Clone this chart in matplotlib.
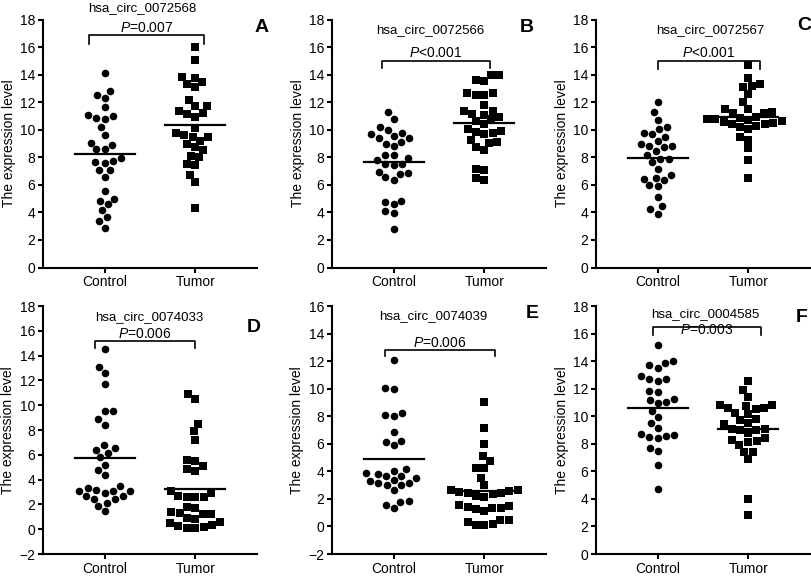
import numpy as np
import matplotlib
matplotlib.use("Agg")
import matplotlib.pyplot as plt

plt.rcParams['font.family'] = ['Liberation Sans', 'DejaVu Sans']
plt.rcParams['mathtext.fontset'] = 'custom'
plt.rcParams['mathtext.rm'] = 'Liberation Sans'
plt.rcParams['mathtext.it'] = 'Liberation Sans:italic'

# ---- data ----
genes = ["hsa_circ_0072568", "hsa_circ_0072566", "hsa_circ_0072567",
         "hsa_circ_0074033", "hsa_circ_0074039", "hsa_circ_0004585"]
p_text = ["=0.007", "<0.001", "<0.001", "=0.006", "=0.006", "=0.003"]
letters = ["A", "B", "C", "D", "E", "F"]
groups = ["Control", "Tumor"]

control_A = [14.1, 12.8, 12.55, 12.3, 11.07, 11.63, 10.97, 10.85, 10.76, 10.17,
             9.6, 9.06, 8.9, 8.58, 8.58, 7.73, 7.56, 7.63, 7.92, 7.07,
             7.07, 6.59, 5.57, 5.0, 4.6, 4.82, 4.17, 3.68, 3.39, 2.9]
tumor_A = [15.99, 15.07, 13.76, 13.32, 13.49, 13.81, 13.13, 12.19, 11.75, 11.75,
           11.39, 11.14, 11.19, 10.95, 10.1, 9.62, 9.45, 9.5, 9.74, 9.2,
           9.0, 8.72, 8.55, 8.0, 8.1, 7.44, 7.51, 6.73, 6.23, 4.31]

control_B = [11.26, 10.8, 10.0, 10.17, 9.52, 9.4, 9.69, 9.76, 9.4, 8.99,
             8.79, 9.08, 8.14, 7.97, 8.14, 7.78, 7.51, 7.46, 7.51, 6.86,
             6.54, 6.37, 6.81, 6.93, 4.77, 4.84, 4.58, 4.07, 3.95, 2.83]
tumor_B = [13.95, 13.52, 13.64, 14.0, 12.67, 12.5, 12.5, 12.67, 11.82, 11.1,
           11.39, 11.39, 11.14, 10.39, 10.78, 10.61, 10.93, 9.76, 9.71, 9.88,
           9.83, 10.05, 9.11, 9.04, 9.23, 8.72, 8.5, 7.1, 7.15, 6.37, 6.49]

control_C = [11.99, 10.7, 11.26, 9.66, 10.02, 10.22, 9.78, 8.83, 8.76, 9.19,
             9.0, 9.49, 8.47, 8.83, 7.66, 8.15, 7.91, 7.91, 7.18, 6.69,
             6.45, 6.32, 6.52, 5.91, 5.96, 5.11, 4.43, 4.21, 3.89]
tumor_C = [14.72, 13.74, 13.18, 13.09, 13.33, 12.58, 11.99, 11.51, 11.51, 11.24,
           11.19, 11.3, 10.9, 10.8, 10.75, 10.87, 10.5, 10.42, 10.55, 10.38,
           10.62, 10.7, 10.2, 10.27, 10.02, 9.49, 9.29, 8.64, 7.78, 6.49]

control_D = [14.55, 13.1, 12.56, 11.73, 9.52, 9.52, 8.44, 8.9, 6.51, 6.16,
             6.42, 6.78, 5.81, 4.81, 4.41, 5.21, 3.14, 3.11, 3.11, 3.52,
             3.33, 2.66, 2.47, 2.66, 2.93, 3.06, 2.12, 1.85, 1.45, 2.4]
tumor_D = [10.87, 10.46, 8.52, 7.91, 7.23, 5.48, 5.62, 4.86, 4.73, 5.08,
           2.93, 2.58, 2.58, 2.58, 2.71, 3.06, 1.77, 1.37, 1.23, 1.23,
           1.31, 1.71, 0.85, 0.5, 0.37, 0.1, 0.23, 0.56, 0.9, 0.18, 0.1]

control_E = [12.11, 9.98, 10.03, 8.11, 8.03, 8.23, 6.89, 6.14, 5.9, 6.21,
             4.2, 3.85, 3.66, 3.54, 3.66, 3.83, 4.02, 3.3, 3.13, 3.0,
             2.64, 3.0, 3.13, 3.37, 1.77, 1.35, 1.55, 1.84]
tumor_E = [9.05, 7.11, 5.97, 4.75, 5.12, 4.27, 4.27, 3.54, 2.98, 2.64,
           2.52, 2.45, 2.33, 2.45, 2.57, 2.62, 2.15, 2.2, 1.55, 1.35,
           1.23, 1.11, 1.31, 1.43, 1.48, 0.5, 0.19, 0.09, 0.09, 0.31, 0.5]

control_F = [15.15, 13.86, 13.5, 13.69, 13.99, 12.94, 12.7, 12.53, 12.72, 11.75,
             11.85, 11.19, 11.0, 11.26, 10.95, 10.41, 9.97, 9.12, 9.49, 8.64,
             8.51, 8.39, 8.56, 8.71, 7.47, 7.71, 6.49, 4.74]
tumor_F = [12.58, 11.92, 11.43, 10.82, 10.58, 10.51, 10.58, 10.77, 10.82, 10.22,
           9.78, 9.73, 10.17, 9.49, 9.41, 9.07, 9.0, 8.8, 9.0, 9.1,
           8.27, 8.15, 7.9, 8.2, 8.39, 7.42, 7.42, 6.88, 3.97, 2.8]

controls = [control_A, control_B, control_C, control_D, control_E, control_F]
tumors = [tumor_A, tumor_B, tumor_C, tumor_D, tumor_E, tumor_F]
ylims = [(0, 18), (0, 18), (0, 18), (-2, 18), (-2, 16), (0, 18)]

# ---- layout (pixels of an 812x576 canvas) ----
W, H = 812, 576
col_left = [43, 332, 596]
ax_w = 214
row_top = [19.5, 306]
ax_h = 248
title_pos = [(0.42, 18.8), (0.40, 17.2), (0.58, 17.2), (0.49, 17.1), (0.44, 15.27), (0.53, 17.4)]
bracket = [(-0.17, 1.10, 16.9, 0.7), (-0.13, 1.06, 14.97, 0.5), (0.0, 1.13, 14.96, 0.55),
           (-0.11, 1.0, 15.17, 0.55), (-0.10, 1.12, 12.82, 0.46), (-0.05, 1.14, 16.47, 0.55)]
ptext_dy = [0.5, 0.6, 0.6, 0.6, 0.5, -0.2]
letter_px = [(262, 28), (527, 27), (804, 25), (254, 328), (532, 313), (802, 318)]


def swarm_x(ax, xc, ys, d):
    # simple beeswarm in pixel space, then back to data coords
    pts = ax.transData.transform(np.column_stack([np.full(len(ys), xc), ys]))
    cx = pts[0, 0]
    placed = []
    out = np.zeros(len(ys))
    for i in np.argsort(pts[:, 1]):
        y = pts[i, 1]
        cands = [cx]
        for px_, py_ in placed:
            dy = abs(py_ - y)
            if dy < d:
                dx = np.sqrt(d * d - dy * dy)
                cands += [px_ - dx, px_ + dx]
        cands.sort(key=lambda c: abs(c - cx))
        for c in cands:
            if all((c - px_) ** 2 + (y - py_) ** 2 >= d * d - 1e-6 for px_, py_ in placed):
                break
        placed.append((c, y))
        out[i] = c
    back = ax.transData.inverted().transform(np.column_stack([out, pts[:, 1]]))
    return back[:, 0]


fig = plt.figure(figsize=(W / 100, H / 100), dpi=100)

for k in range(6):
    r, c = divmod(k, 3)
    ax = fig.add_axes([col_left[c] / W, 1 - (row_top[r] + ax_h) / H, ax_w / W, ax_h / H])
    ax.set_xlim(-0.68, 1.68)
    ax.set_ylim(*ylims[k])
    for s in ['top', 'right']:
        ax.spines[s].set_visible(False)
    for s in ['left', 'bottom']:
        ax.spines[s].set_linewidth(1.5)
    ax.set_yticks(np.arange(ylims[k][0], ylims[k][1] + 0.1, 2))
    ax.set_xticks([0, 1])
    ax.set_xticklabels(groups)
    ax.tick_params(width=1.5, length=3.5, labelsize=10, pad=2)
    ax.set_ylabel("The expression level", fontsize=10, labelpad=3)

    for j, (vals, mk, ms) in enumerate([(controls[k], 'o', 30), (tumors[k], 's', 26)]):
        xs = swarm_x(ax, j, vals, 8.6)
        ax.scatter(xs, vals, marker=mk, s=ms, color='black', linewidths=0, zorder=3, clip_on=False)
        m = np.mean(vals)
        ax.plot([j - 0.33, j + 0.33], [m, m], color='black', lw=1.6, zorder=4)

    x0, x1, yb, drop = bracket[k]
    ax.plot([x0, x0, x1, x1], [yb - drop, yb, yb, yb - drop], color='black', lw=1.2, clip_on=False)
    ax.text((x0 + x1) / 2, yb + ptext_dy[k], r'$\it{P}$' + p_text[k], ha='center', va='center', fontsize=10)
    tx, ty = title_pos[k]
    ax.text(tx, ty, genes[k], ha='center', va='center', fontsize=9.5, clip_on=False)
    lx, ly = letter_px[k]
    fig.text(lx / W, 1 - ly / H, letters[k], ha='center', va='center', fontsize=14, fontweight='bold')

fig.savefig("out.png", dpi=100)
